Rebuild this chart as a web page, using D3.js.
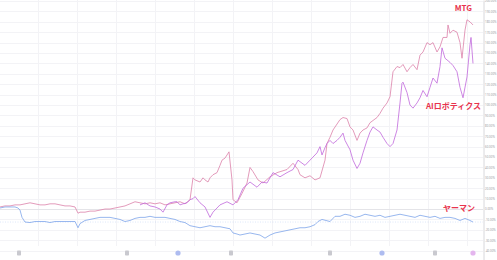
<!DOCTYPE html>
<html lang="ja">
<head>
<meta charset="UTF-8">
<title>MTG / AIロボティクス / ヤーマン</title>
<script src="https://d3js.org/d3.v7.min.js"></script>
<style>
  html, body { margin: 0; padding: 0; background: #fff; }
  svg { display: block; }
  .grid line { stroke: #f3f3f6; stroke-width: 1; }
  .axis text { font-family: "Noto Sans", sans-serif; font-size: 2.9px; fill: #9a9aa2; }
  .series-label { font-family: "Noto Sans CJK JP", "Noto Sans", sans-serif; font-weight: bold; font-size: 8px; fill: #e8344e; }
</style>
</head>
<body>
<svg width="497" height="260"></svg>
<script>
// time index (sample position along the period) and % change values
const mtgT = [0,5,10,15,20,25,30,35,40,45,50,55,60,65,70,75,78,80,85,90,95,100,105,110,115,120,125,130,135,140,145,150,155,160,165,170,175,180,185,190,193,195,200,203,205,208,210,213,217,220,222,225,229,232,233,237,242,247,250,253,258,263,270,277,287,293,298,300,305,310,315,320,325,327,330,333,340,343,347,350,353,357,360,363,367,370,377,380,383,387,390,392,393,397,400,403,407,410,413,417,420,423,427,430,433,437,440,443,447,448,450,453,457,460,462,465,467,470,473];
const mtgValues = [2,3,3,4,4,5,6,5,4,4,5,5,4,3,3,2,-4,-3,-3,-2,-2,-1,0,0,1,2,3,5,7,6,5,6,5,6,4,5,6,7,5,9,30,28,26,30,28,26,30,33,35,42,47,49,55,28,9,6,15,25,40,36,28,25,31,35,38,44,38,33,30,32,28,30,47,63,69,76,86,88,87,79,76,66,73,76,78,83,88,92,97,102,108,124,132,137,136,139,132,136,139,134,148,151,160,158,160,151,156,165,165,177,169,172,170,160,145,172,182,180,177];

const aiT = [140,145,150,155,160,163,167,170,175,177,180,183,187,190,193,195,200,205,210,213,217,220,227,233,238,243,250,257,262,267,273,280,287,293,298,305,310,313,317,320,322,325,327,330,333,337,340,343,345,350,353,357,360,363,367,370,373,377,380,383,387,390,393,397,400,402,403,407,410,413,417,420,423,427,430,433,437,440,442,445,450,453,457,460,463,467,470,471,473];
const aiValues = [4,6,3,2,0,-3,4,6,7,7,4,5,6,9,10,12,6,2,-8,-3,1,4,7,4,9,20,26,21,26,25,35,31,35,38,47,42,47,50,54,60,52,59,63,66,63,66,69,73,66,57,47,39,44,54,66,74,79,76,74,69,63,60,63,76,102,121,122,112,100,97,102,107,114,108,117,126,121,137,155,145,141,138,132,117,107,127,158,165,140];

const yamanT = [0,5,10,15,18,20,22,25,30,35,40,45,50,55,60,65,70,75,78,80,85,90,95,100,105,110,115,120,125,130,135,140,145,150,155,160,165,170,175,180,185,190,195,200,205,210,215,220,225,230,233,237,240,245,250,255,260,265,270,275,280,285,290,295,300,305,310,315,318,322,330,335,340,345,350,355,360,365,370,375,380,385,390,395,400,405,410,415,420,425,430,435,440,445,450,455,460,465,470,473];
const yamanValues = [1,2,2,2,1,-1,-8,-12.5,-13,-12,-12,-12,-13,-12,-12,-12,-12,-12,-18,-14,-11,-10,-9,-8,-8,-8,-9,-10,-12,-11,-9,-8,-8,-7,-8,-8,-8,-9,-10,-12,-13,-16,-17,-18,-17,-16,-17,-17,-18,-19,-23,-24,-25,-24,-23,-24,-25,-28,-25,-23,-22,-21,-20,-19,-18,-18,-17,-15,-12,-10,-12,-7,-7,-5,-6,-8,-7,-5,-6,-7,-6,-8,-7,-6,-5,-6,-7,-8,-6,-7,-8,-7,-9,-8,-8,-9,-11,-9,-11,-12.5];

const yTicks = d3.range(-40, 201, 10);
// event markers along the bottom: [time index, kind]
const eventT = [19,127,178,231,330,382,435,473];
const eventKind = ["E","E","D","E","E","D","E","S"];
const gridT = [38,77,116,155,194,233,272,311,350,389,428,467];

const seriesNames = ["MTG", "AIロボティクス", "ヤーマン"];
const seriesColors = ["#dc82a9", "#c068dc", "#7ea4ea"];

const svg = d3.select("svg");
const W = 497, H = 260, axisX = 483;

const x = d3.scaleLinear().domain([0, 483]).range([0, axisX]);
const y = d3.scaleLinear().domain([-49, 201]).range([H, 0]);

// grid
const grid = svg.append("g").attr("class", "grid");
grid.selectAll("line.h").data(yTicks).join("line").attr("class", "h")
  .attr("x1", 0).attr("x2", axisX)
  .attr("y1", d => Math.round(y(d)) + 0.5).attr("y2", d => Math.round(y(d)) + 0.5);
grid.selectAll("line.v").data(gridT).join("line").attr("class", "v")
  .attr("x1", d => Math.round(x(d)) + 0.5).attr("x2", d => Math.round(x(d)) + 0.5)
  .attr("y1", 0).attr("y2", 246);

// zero line
svg.append("line")
  .attr("x1", 0).attr("x2", axisX)
  .attr("y1", Math.round(y(0)) + 0.5).attr("y2", Math.round(y(0)) + 0.5)
  .attr("stroke", "#e4e4e8");

// right axis
const axis = svg.append("g").attr("class", "axis")
  .attr("transform", `translate(${axisX + 0.5},0)`)
  .call(d3.axisRight(y).tickValues(yTicks).tickSize(0).tickPadding(1.5)
    .tickFormat(d => d.toFixed(2) + "%"));
axis.select(".domain").attr("stroke", "#d8d8dc");

const line = d3.line()
  .x(d => x(d[0]))
  .y(d => y(d[1]));

const series = [
  d3.zip(mtgT, mtgValues),
  d3.zip(aiT, aiValues),
  d3.zip(yamanT, yamanValues)
];

// last value price line for ヤーマン
svg.append("line")
  .attr("x1", 0).attr("x2", axisX)
  .attr("y1", y(yamanValues[yamanValues.length - 1]))
  .attr("y2", y(yamanValues[yamanValues.length - 1]))
  .attr("stroke", seriesColors[2]).attr("stroke-opacity", 0.45)
  .attr("stroke-width", 0.6).attr("stroke-dasharray", "1,1.5");

svg.append("g").selectAll("path").data(series).join("path")
  .attr("d", line)
  .attr("fill", "none")
  .attr("stroke", (d, i) => seriesColors[i])
  .attr("stroke-width", 0.8)
  .attr("stroke-linejoin", "round");

// labels
const labelPos = [[472, 11], [481, 109], [475, 211]];
svg.append("g").selectAll("text").data(seriesNames).join("text")
  .attr("class", "series-label")
  .attr("text-anchor", "end")
  .attr("x", (d, i) => labelPos[i][0])
  .attr("y", (d, i) => labelPos[i][1])
  .text(d => d);

// event markers
const ev = svg.append("g");
eventT.forEach((t, i) => {
  const cx = x(t), cy = 253;
  const k = eventKind[i];
  if (k === "E") {
    ev.append("rect").attr("x", cx - 2).attr("y", cy - 2.5).attr("width", 4).attr("height", 5)
      .attr("rx", 0.8).attr("fill", "#c9c9cf");
  } else if (k === "D") {
    ev.append("circle").attr("cx", cx).attr("cy", cy).attr("r", 2.6).attr("fill", "#aebcf0");
  } else {
    ev.append("circle").attr("cx", cx).attr("cy", cy).attr("r", 2.6).attr("fill", "#e4b6ee");
  }
});
</script>
</body>
</html>
